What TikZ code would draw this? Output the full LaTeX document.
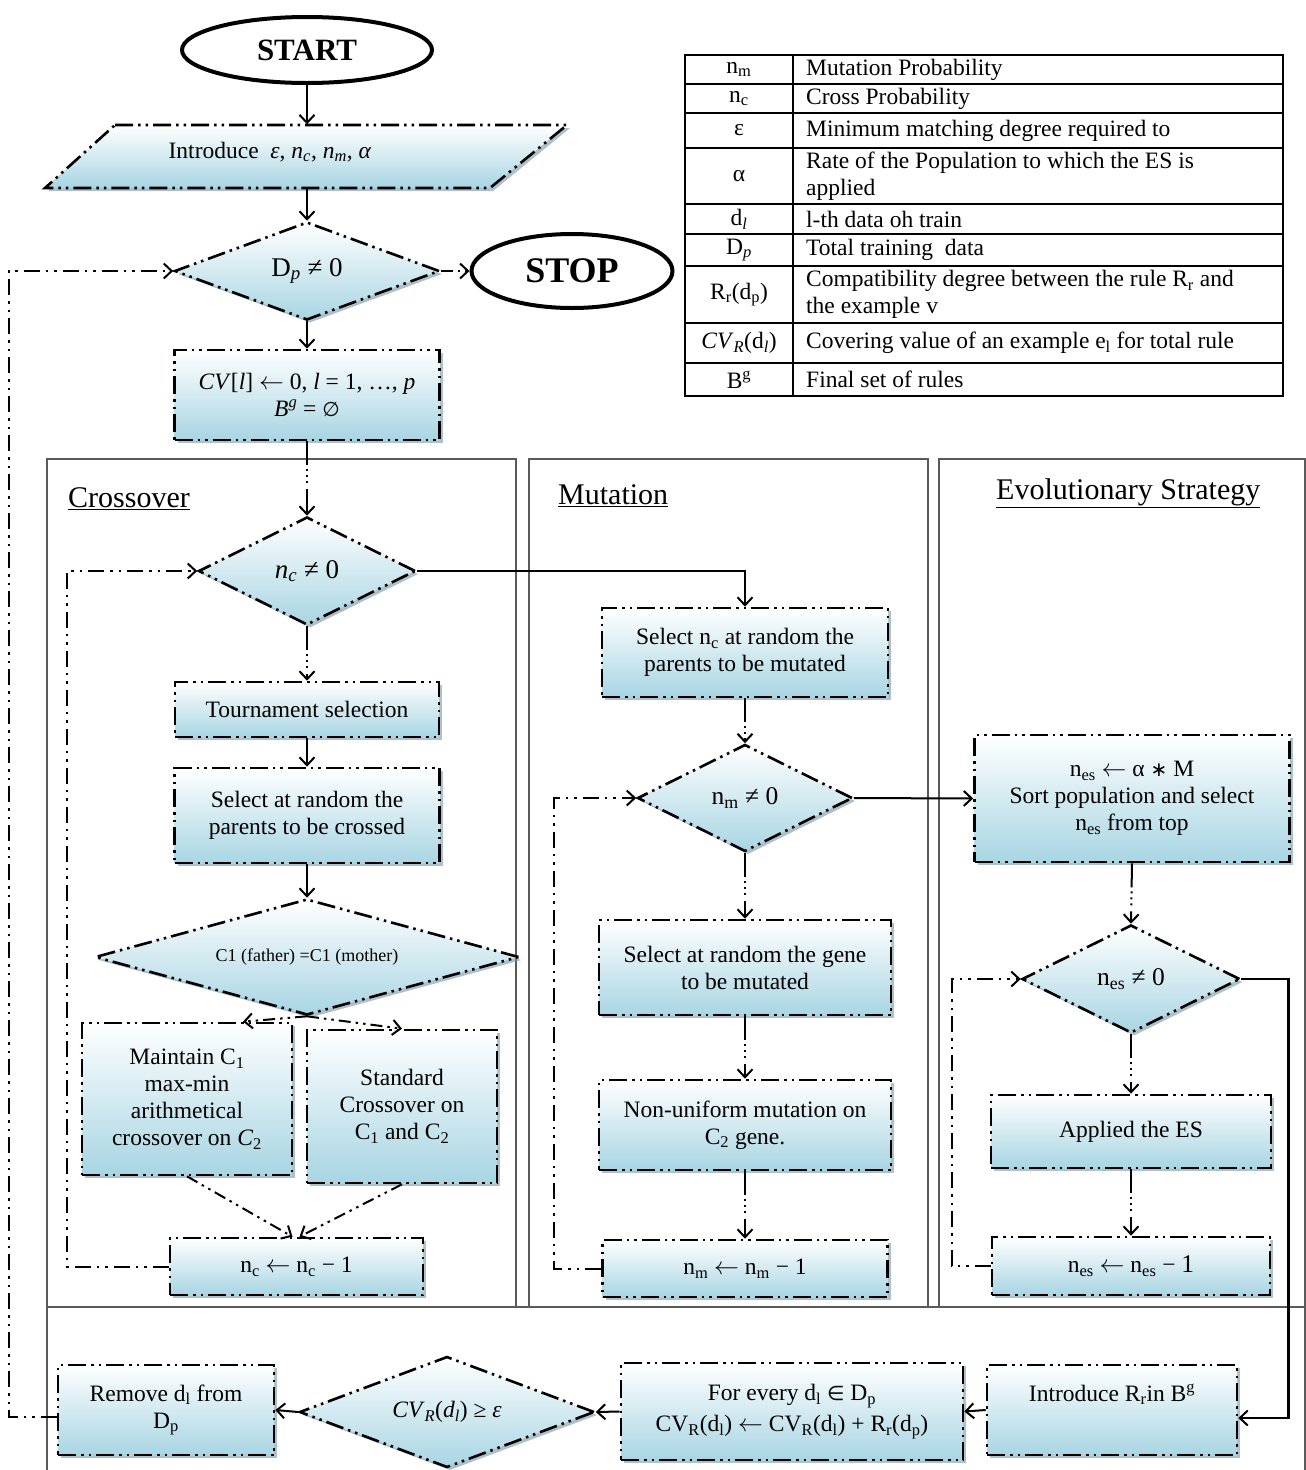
\documentclass[tikz,border=0pt]{standalone}
\usepackage{fontspec}
\setmainfont{Liberation Serif}
\newfontfamily\dvfont{DejaVu Sans}
\usetikzlibrary{shapes.geometric,arrows.meta,shadows,calc}
\definecolor{boxblue}{RGB}{168,213,227}
\definecolor{shadowc}{RGB}{120,150,165}
\definecolor{secgray}{RGB}{90,90,90}
\newcommand{\bodyfont}{\fontsize{23.5}{27}\selectfont}
\newcommand{\bigbody}{\fontsize{27}{30}\selectfont}
\newcommand{\midbody}{\fontsize{25.5}{29}\selectfont}
\newcommand{\titlefont}{\fontsize{30}{34}\selectfont}
\newcommand{\smallbody}{\fontsize{18}{22}\selectfont}
\newcommand{\sym}[1]{{\dvfont\fontsize{20}{24}\selectfont #1}}
\newcommand{\la}{\ensuremath{\leftarrow}}
\begin{document}
\begin{tikzpicture}[x=1pt,y=-1pt,
  shapebase/.style={draw, line width=2.6pt,
    dash pattern=on 18pt off 5pt on 2.5pt off 5pt on 2.5pt off 5pt,
    top color=white, bottom color=boxblue,
    drop shadow={shadow xshift=3pt,shadow yshift=-3pt,fill=shadowc,opacity=0.6},
    align=center, font=\bodyfont, inner sep=2pt},
  box/.style 2 args={shapebase, rectangle, minimum width=#1, minimum height=#2},
  diam/.style 2 args={shapebase, diamond, aspect=2.5, inner sep=0pt, minimum width=#1, minimum height=#2},
  term/.style 2 args={ellipse, draw, line width=4pt, fill=white, minimum width=#1, minimum height=#2, inner sep=0pt, font=\bfseries\fontsize{31}{34}\selectfont},
  arr/.style={line width=2pt, -{Straight Barb[length=8pt,width=15pt,line width=2pt]}},
  mix/.style={arr, dash pattern=on 24pt off 4pt on 2pt off 4pt on 2pt off 4pt on 2pt off 6pt},
  dd/.style={arr, dash pattern=on 12pt off 5pt on 2.5pt off 5pt on 2.5pt off 5pt},
  loopst/.style={arr, dash pattern=on 16pt off 6pt on 2.5pt off 6pt on 2.5pt off 6pt},
  sec/.style={draw=secgray, line width=1.2pt},
  title/.style={font=\titlefont, anchor=west, inner sep=0pt},
  tline/.style={line width=1.6pt},
  tsym/.style={font=\bodyfont, inner sep=0pt},
  tdesc/.style={font=\bodyfont, inner sep=0pt, anchor=west, align=left},
]
\useasboundingbox (0,0) rectangle (1306,1470);

% section frames
\draw[sec] (47,459) rectangle (516,1307);
\draw[sec] (529,459) rectangle (928,1307);
\draw[sec] (939,459) rectangle (1305,1307);
\draw[sec] (47,1307) -- (1305,1307);
\draw[sec] (47,1307) -- (47,1470);
\draw[sec] (1305,1307) -- (1305,1470);

\node[title] (tcross) at (68,499) {\underline{Crossover}};
\node[title] (tmut) at (558,496) {\underline{Mutation}};
\node[title] (tes) at (996,493) {\underline{Evolutionary Strategy}};

% legend table
\draw[tline] (685,55) rectangle (1283,396);
\draw[tline] (793,55) -- (793,396);
\foreach \yy in {84,113,148,204,234,266,323,363} \draw[tline] (685,\yy) -- (1283,\yy);
\node[tsym] (s1) at (739,69.5) {n\textsubscript{m}};
\node[tdesc] (d1) at (806,69.5) {Mutation Probability};
\node[tsym] (s2) at (739,98.5) {n\textsubscript{c}};
\node[tdesc] (d2) at (806,98.5) {Cross Probability};
\node[tsym] (s3) at (739,130.5) {ε};
\node[tdesc] (d3) at (806,130.5) {Minimum matching degree required to};
\node[tsym] (s4) at (739,176) {α};
\node[tdesc] (d4) at (806,176) {Rate of the Population to which the ES is\\applied};
\node[tsym] (s5) at (739,219) {d\textsubscript{\textit{l}}};
\node[tdesc] (d5) at (806,219) {l-th data oh train};
\node[tsym] (s6) at (739,250) {D\textsubscript{\textit{p}}};
\node[tdesc] (d6) at (806,250) {Total training\ \ data};
\node[tsym] (s7) at (739,294.5) {R\textsubscript{r}(d\textsubscript{p})};
\node[tdesc] (d7) at (806,294.5) {Compatibility degree between the rule R\textsubscript{r} and\\the example v};
\node[tsym] (s8) at (739,343) {\textit{CV}\textsubscript{\textit{R}}(d\textsubscript{\textit{l}})};
\node[tdesc] (d8) at (806,343) {Covering value of an example e\textsubscript{l} for total rule};
\node[tsym] (s9) at (739,379.5) {B\textsuperscript{g}};
\node[tdesc] (d9) at (806,379.5) {Final set of rules};

% top column
\node[term={250}{66}] (start) at (307,50) {START};
\node[term={201}{74}, font=\bfseries\fontsize{36}{40}\selectfont] (stop) at (572,271) {STOP};
\path[shapebase] (115,125) -- (567,125) -- (490,188) -- (45,188) -- cycle;
\node[minimum width=445, minimum height=63, inner sep=0pt] (intro) at (307,156) {};
\node[font=\bodyfont] (introtxt) at (270,152) {Introduce\ \ \textit{ε}, \textit{n}\textsubscript{\textit{c}}, \textit{n}\textsubscript{\textit{m}}, \textit{α}};
\node[diam={265}{98}, font=\bigbody] (dp) at (307,271) {D\textsubscript{\textit{p}} ≠ 0};
\node[box={265}{90}] (cv) at (307,395) {\textit{CV}[\textit{l}] \la{} 0, \textit{l} = 1, …, \textit{p}\\ \textit{B}\textsuperscript{\textit{g}} = \sym{∅}};

% crossover
\node[diam={217}{108}, font=\bigbody] (nc) at (307,571) {\textit{n}\textsubscript{\textit{c}} ≠ 0};
\node[box={264}{55}] (tour) at (307,709.5) {Tournament selection};
\node[box={265}{95}] (selx) at (307,815.5) {Select at random the\\parents to be crossed};
\node[diam={424}{116}, font=\smallbody] (c1) at (307,957) {C1 (father) =C1 (mother)};
\node[box={210}{152}] (maint) at (187,1099) {Maintain C\textsubscript{1}\\max-min\\arithmetical\\crossover on \textit{C}\textsubscript{2}};
\node[box={190}{153}] (std) at (402,1106.5) {Standard\\Crossover on\\C\textsubscript{1} and C\textsubscript{2}};
\node[box={253}{57}] (ncd) at (296.5,1266.5) {n\textsubscript{c} \la{} n\textsubscript{c} − 1};

% mutation
\node[box={286}{89}] (seln) at (745,652.5) {Select n\textsubscript{c} at random the\\parents to be mutated};
\node[diam={215}{107}, font=\midbody] (nm) at (745,798) {n\textsubscript{m} ≠ 0};
\node[box={292}{95}] (selg) at (745,967.5) {Select at random the gene\\to be mutated};
\node[box={292}{90}] (nonu) at (745,1125) {Non-uniform mutation on\\C\textsubscript{2} gene.};
\node[box={285}{57}] (nmd) at (745,1268.5) {n\textsubscript{m} \la{} n\textsubscript{m} − 1};

% evolutionary strategy
\node[box={315}{127}] (nes) at (1132,798.5) {n\textsubscript{es} \la{} α \sym{∗} M\\Sort population and select\\n\textsubscript{es} from top};
\node[diam={218}{108}, font=\midbody] (nesd) at (1131,979) {n\textsubscript{es} ≠ 0};
\node[box={280}{73}] (appl) at (1131,1131.5) {Applied the ES};
\node[box={278}{58}] (nesm) at (1131,1266) {n\textsubscript{es} \la{} n\textsubscript{es} − {\midbody 1}};

% bottom row
\node[box={250}{90}] (intr) at (1112,1410) {Introduce R\textsubscript{r}in B\textsuperscript{g}\\\strut};
\node[box={342}{97}] (fev) at (792,1411.5) {For every d\textsubscript{l} \sym{∈} D\textsubscript{p}\\[4pt]CV\textsubscript{R}(d\textsubscript{l}) \la{} CV\textsubscript{R}(d\textsubscript{l}) + R\textsubscript{r}(d\textsubscript{p})};
\node[diam={295}{111}] (cvd) at (447,1412) {\textit{CV}\textsubscript{\textit{R}}(\textit{d}\textsubscript{\textit{l}}) ≥ \textit{ε}};
\node[box={216}{90}] (rem) at (166,1410) {Remove d\textsubscript{l} from\\D\textsubscript{p}};

% connectors
\draw[arr] (start.south) -- (intro.north);
\draw[arr] (intro.south) -- (dp.north);
\draw[dd] (dp.east) -- (stop.west);
\draw[arr] (dp.south) -- (cv.north);
\draw[mix] (cv.south) -- (nc.north);
\draw[mix] (nc.south) -- (tour.north);
\draw[arr] (tour.south) -- (selx.north);
\draw[arr] (selx.south) -- (c1.north);
\draw[dd] (c1.south) -- ([xshift=56pt]maint.north);
\draw[dd] (c1.south) -- (std.north);
\draw[dd] (maint.south) -- ([xshift=-4pt]ncd.north);
\draw[dd] (std.south) -- ([xshift=3pt]ncd.north);
\draw[loopst] (ncd.west) -- ++(-102,0) |- (nc.west);
\draw[arr] (nc.east) -| (seln.north);
\draw[mix] (seln.south) -- (nm.north);
\draw[arr] (nm.east) -- (nes.west);
\draw[mix] (nm.south) -- (selg.north);
\draw[mix] (selg.south) -- (nonu.north);
\draw[mix] (nonu.south) -- (nmd.north);
\draw[loopst] (nmd.west) -- ++(-47,0) |- (nm.west);
\draw[mix] (nes.south) -- (nesd.north);
\draw[mix] (nesd.south) -- (appl.north);
\draw[mix] (appl.south) -- (nesm.north);
\draw[loopst] (nesm.west) -- ++(-39,0) |- (nesd.west);
\draw[arr, line width=2.6pt] (nesd.east) -- ++(47,0) |- ([yshift=-8pt]intr.east);
\draw[arr] (intr.west) -- (fev.east);
\draw[arr] (fev.west) -- (cvd.east);
\draw[arr] (cvd.west) -- (rem.east);
\draw[loopst] ([yshift=-7pt]rem.west) -- ++(-48,0) |- (dp.west);
\end{tikzpicture}
\end{document}
